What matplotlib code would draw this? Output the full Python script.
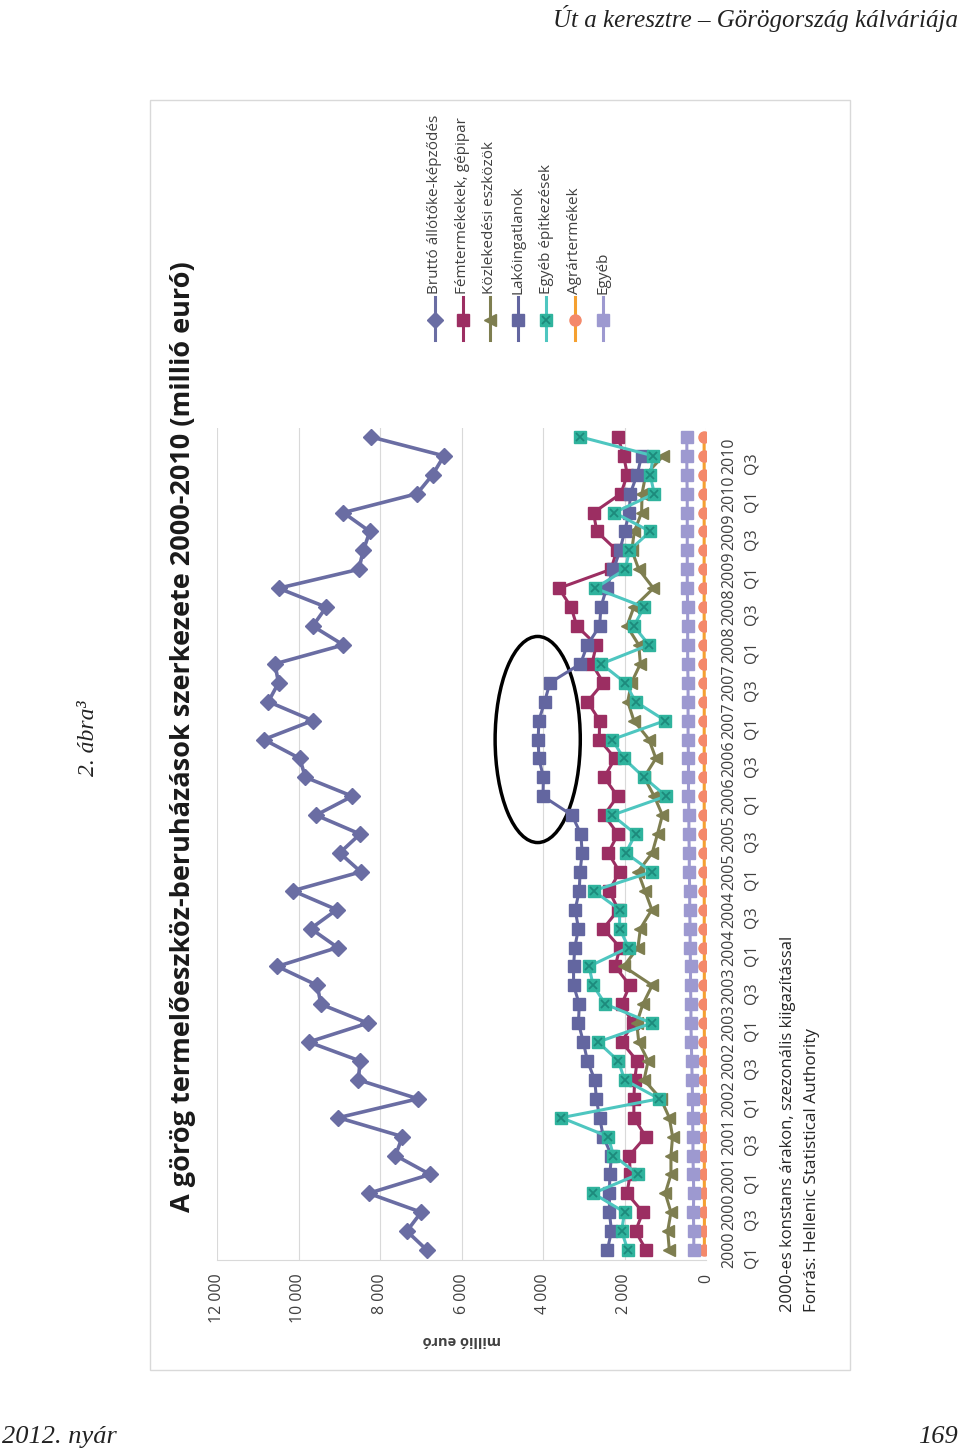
import numpy as np
import matplotlib
matplotlib.use('Agg')
import matplotlib.pyplot as plt
from matplotlib.lines import Line2D
from matplotlib.patches import Ellipse, Rectangle

plt.rcParams['font.family'] = ['Open Sans', 'DejaVu Sans']

# kategóriák: negyedévek 2000 Q1 - 2010 Q4
years = ['2000', '2001', '2002', '2003', '2004', '2005', '2006', '2007', '2008', '2009', '2010']
quarters = ['Q1', 'Q2', 'Q3', 'Q4']
categories = [y + ' ' + q for y in years for q in quarters]
tick_labels = [c.replace(' ', '\n') for c in categories[::2]]
value_ticks = [0, 2000, 4000, 6000, 8000, 10000, 12000]
value_tick_labels = ['0', '2 000', '4 000', '6 000', '8 000', '10 000', '12 000']

# millió euró, leolvasott értékek
brutto = [6850, 7340, 6990, 8280, 6770, 7620, 7450, 9020, 7070, 8530, 8490,
          9750, 8300, 9450, 9540, 10520, 9040, 9700, 9060, 10140, 8470, 8990,
          8490, 9570, 8680, 9830, 9970, 10850, 9650, 10740, 10490, 10580, 8900,
          9650, 9320, 10490, 8520, 8410, 8250, 8900, 7090, 6710, 6430, 8220]
femtermek = [1470, 1730, 1550, 1940, 1860, 1880, 1480, 1770, 1770, 1750, 1690,
             2070, 1790, 2070, 1870, 2230, 2110, 2520, 2150, 2380, 2120, 2400,
             2160, 2500, 2170, 2500, 2230, 2620, 2610, 2910, 2520, 2800, 2690,
             3170, 3310, 3610, 2330, 2190, 2680, 2760, 2090, 1930, 2020, 2160]
kozlekedesi = [900, 940, 860, 1000, 860, 860, 820, 900, 1110, 1520, 1420,
               1650, 1700, 1550, 1320, 2020, 1670, 1610, 1330, 1500, 1670, 1320,
               1190, 1070, 1270, 1520, 1230, 1400, 1770, 1920, 1830, 1610, 1650,
               1940, 1770, 1290, 1650, 1820, 1760, 1580, 1570, 1480, 1050, np.nan]
lakoingatlan = [2420, 2320, 2370, 2370, 2360, 2320, 2520, 2610, 2690, 2730, 2910,
                3010, 3130, 3110, 3250, 3250, 3220, 3130, 3210, 3110, 3090, 3040,
                3070, 3290, 4000, 3990, 4100, 4120, 4100, 3960, 3830, 3080, 2910,
                2610, 2580, 2440, 2270, 2110, 2000, 1880, 1860, 1690, 1580, np.nan]
egyeb_epit = [1920, 2070, 2000, 2770, 1670, 2270, 2400, 3550, 1150, 2000, 2150,
              2650, 1330, 2470, 2770, 2870, 1900, 2120, 2120, 2760, 1330, 1970,
              1730, 2300, 980, 1520, 2020, 2300, 1000, 1730, 1980, 2570, 1400,
              1770, 1520, 2720, 1980, 1880, 1370, 2250, 1270, 1370, 1290, 3080]
agrar = [40, 40, 38, 40, 42, 40, 40, 42, 40, 40, 42,
         40, 42, 40, 42, 40, 42, 44, 42, 44, 42, 44,
         42, 44, 44, 42, 44, 44, 44, 42, 44, 44, 46,
         44, 46, 44, 46, 46, 44, 46, 46, 44, 46, 46]
egyeb = [300, 300, 310, 300, 310, 320, 320, 330, 330, 340, 350,
         360, 370, 370, 380, 380, 390, 390, 400, 400, 410, 410,
         420, 420, 430, 430, 430, 440, 440, 440, 440, 450, 450,
         450, 450, 460, 460, 460, 460, 460, 460, 470, 470, 470]

W, H = 960, 1452
def fx(x):
    return x / W
def fy(y):
    return 1 - y / H

fig = plt.figure(figsize=(9.6, 14.52), dpi=100)

# diagram kerete
fig.add_artist(Rectangle((fx(150), fy(1370)), fx(850) - fx(150), fy(100) - fy(1370),
                         transform=fig.transFigure, fill=False, ec='#d9d9d9', lw=1))

ax = fig.add_axes([fx(217), fy(1259.5), fx(706) - fx(217), fy(427.5) - fy(1259.5)])
ax.set_xlim(12000, 0)
ax.set_ylim(-0.5, 43.5)
for s in ['top', 'left', 'right']:
    ax.spines[s].set_visible(False)
ax.spines['bottom'].set_color('#d9d9d9')
ax.set_xticks(value_ticks)
ax.set_xticklabels(value_tick_labels, rotation=90, fontsize=11.5, color='#404040')
ax.tick_params(axis='x', length=0, pad=10)
ax.grid(axis='x', color='#d9d9d9', lw=0.8)
ax.set_axisbelow(True)
ax.yaxis.tick_right()
ax.set_yticks(np.arange(0, 44, 2))
ax.set_yticklabels(tick_labels, rotation=90, fontsize=11.5, color='#404040',
                   va='center', ha='left', linespacing=1.5)
ax.tick_params(axis='y', length=0, pad=11)

idx = np.arange(len(categories))

series = [
    ('Bruttó állótőke-képződés', brutto, '#6a6da3', '#6a6da3', 'D', 8),
    ('Fémtermékekek, gépipar', femtermek, '#9c2e62', '#9c2e62', 's', 9),
    ('Közlekedési eszközök', kozlekedesi, '#7e7e50', '#7e7e50', '<', 9),
    ('Lakóingatlanok', lakoingatlan, '#6366a0', '#6366a0', 's', 8),
    ('Egyéb építkezések', egyeb_epit, '#4ec6c0', '#2fb39d', 's', 8),
    ('Agrártermékek', agrar, '#f5a030', '#f4896b', 'o', 8),
    ('Egyéb', egyeb, '#9d99d0', '#9d99d0', 's', 8),
]

for name, vals, lc, mc, mk, ms in series:
    lw = 2.6 if mk == 'D' else 2.2
    ax.plot(vals, idx, color=lc, lw=lw, marker=mk, ms=ms, mfc=mc, mec=mc)
    if name == 'Egyéb építkezések':
        ax.plot(vals, idx, ls='none', marker='x', ms=6, mew=1.3, color='#1d8a7c')

# kiemelés
ax.add_patch(Ellipse((4130, 27.0), 2090, 10.9, fill=False, ec='black', lw=2.5))

# jelmagyarázat (elforgatva)
leg_x = [435, 463, 490, 518, 546, 575, 603]
for (name, vals, lc, mc, mk, ms), x in zip(series, leg_x):
    fig.add_artist(Line2D([fx(x), fx(x)], [fy(340), fy(297)], transform=fig.transFigure,
                          color=lc, lw=2.2))
    fig.add_artist(Line2D([fx(x)], [fy(320)], transform=fig.transFigure, ls='none',
                          marker=mk, ms=ms, mfc=mc, mec=mc))
    if name == 'Egyéb építkezések':
        fig.add_artist(Line2D([fx(x)], [fy(320)], transform=fig.transFigure, ls='none',
                              marker='x', ms=6, mew=1.3, color='#1d8a7c'))
    fig.text(fx(x), fy(294), name, rotation=90, ha='center', va='bottom',
             fontsize=11, color='#404040')

fig.text(fx(183), fy(737), 'A görög termelőeszköz-beruházások szerkezete 2000-2010 (millió euró)',
         rotation=90, ha='center', va='center', fontsize=19.5, fontweight='bold', color='#1a1a1a')
fig.text(fx(462), fy(1340), 'millió euró', rotation=180, ha='center', va='center',
         fontsize=10.5, fontweight='bold', color='#404040')
fig.text(fx(788), fy(1312), '2000-es konstans árakon, szezonális kiigazítással',
         rotation=90, ha='center', va='bottom', fontsize=12, color='#262626')
fig.text(fx(812), fy(1312), 'Forrás: Hellenic Statistical Authority',
         rotation=90, ha='center', va='bottom', fontsize=12.3, color='#262626')

# oldal szövegei
serif = ['Liberation Serif', 'DejaVu Serif']
fig.text(fx(958), fy(18), 'Út a keresztre – Görögország kálváriája', ha='right', va='center',
         fontsize=18, style='italic', family=serif, color='#222222')
fig.text(fx(88), fy(738), '2. ábra³', rotation=90, ha='center', va='center',
         fontsize=17, style='italic', family=serif, color='#222222')
fig.text(fx(2), fy(1437), '2012. nyár', ha='left', va='center',
         fontsize=19, style='italic', family=serif, color='#222222')
fig.text(fx(958), fy(1437), '169', ha='right', va='center',
         fontsize=19, style='italic', family=serif, color='#222222')

fig.savefig('out.png', dpi=100)
